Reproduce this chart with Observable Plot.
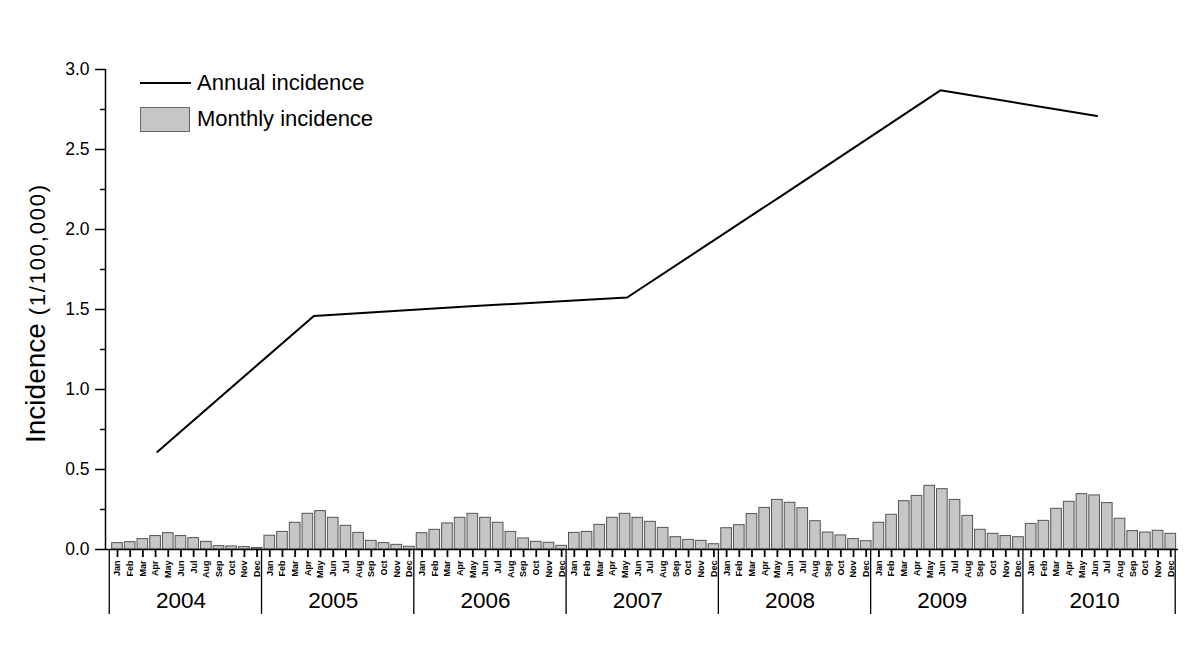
<!DOCTYPE html>
<html>
<head>
<meta charset="utf-8">
<script src="https://cdn.jsdelivr.net/npm/d3@7"></script>
<script src="https://cdn.jsdelivr.net/npm/@observablehq/plot@0.6"></script>
<style>
  body { margin: 0; background: #fff; font-family: "Liberation Sans", Arial, sans-serif; }
  #wrap { position: relative; width: 1200px; height: 661px; }
  #wrap svg { position: absolute; left: 0; top: 0; }
  .legend { position: absolute; left: 140px; top: 65px; font-size: 22px; color: #000; }
  .row { display: flex; align-items: center; height: 36px; }
  .sw-line { width: 51px; height: 0; border-top: 2px solid #000; margin-right: 6px; }
  .sw-box { width: 48px; height: 23px; background: #c6c6c6; border: 1px solid #666; margin-right: 7px; }
</style>
</head>
<body>
<div id="wrap">
  <div class="legend">
    <div class="row"><div class="sw-line"></div><span>Annual incidence</span></div>
    <div class="row"><div class="sw-box"></div><span>Monthly incidence</span></div>
  </div>
</div>
<script>
const months = ["Jan","Feb","Mar","Apr","May","Jun","Jul","Aug","Sep","Oct","Nov","Dec"];
const years = [2004, 2005, 2006, 2007, 2008, 2009, 2010];

const monthly2004 = [0.040, 0.046, 0.065, 0.084, 0.102, 0.084, 0.071, 0.048, 0.021, 0.019, 0.015, 0.009];
const monthly2005 = [0.086, 0.110, 0.167, 0.223, 0.240, 0.198, 0.148, 0.104, 0.054, 0.040, 0.029, 0.017];
const monthly2006 = [0.102, 0.123, 0.163, 0.198, 0.223, 0.198, 0.167, 0.110, 0.069, 0.048, 0.042, 0.023];
const monthly2007 = [0.104, 0.110, 0.154, 0.198, 0.223, 0.198, 0.173, 0.135, 0.077, 0.060, 0.054, 0.033];
const monthly2008 = [0.133, 0.152, 0.221, 0.260, 0.310, 0.292, 0.258, 0.177, 0.106, 0.088, 0.065, 0.052];
const monthly2009 = [0.167, 0.217, 0.302, 0.335, 0.398, 0.377, 0.310, 0.210, 0.123, 0.098, 0.084, 0.077];
const monthly2010 = [0.160, 0.179, 0.254, 0.298, 0.346, 0.338, 0.290, 0.192, 0.115, 0.106, 0.117, 0.098];
const monthlyByYear = [monthly2004, monthly2005, monthly2006, monthly2007, monthly2008, monthly2009, monthly2010];

const annualIncidence = [0.61, 1.46, 1.52, 1.575, 2.22, 2.87, 2.71];

const yMajor = [0, 0.5, 1.0, 1.5, 2.0, 2.5, 3.0];
const yMinor = [0.25, 0.75, 1.25, 1.75, 2.25, 2.75];

const rows = years.flatMap((yr, k) => months.map((m, j) => ({i: k * 12 + j, year: yr, month: m, value: monthlyByYear[k][j]})));
const annualRows = years.map((yr, k) => ({year: yr, value: annualIncidence[k]}));

const W = 1200, H = 661;
const margins = {marginTop: 69, marginBottom: 112, marginLeft: 105, marginRight: 22};
const xDomain = [-0.946, 83.61];
const font = "'Liberation Sans', Arial, sans-serif";

const boundaries = years.map((y, k) => k * 12 - 0.65).concat([years.length * 12 - 0.65]);
const yearCenters = years.map((y, k) => k * 12 + 5);

const main = Plot.plot({
  width: W, height: H, ...margins,
  x: {domain: xDomain},
  y: {domain: [0, 3]},
  style: {fontFamily: font, color: "#000", background: "transparent", overflow: "visible"},
  marks: [
    Plot.rectY(rows, {x1: d => d.i - 0.42, x2: d => d.i + 0.42, y: "value", fill: "#c6c6c6", stroke: "#555", strokeWidth: 1}),
    Plot.ruleY([0], {stroke: "#000", strokeWidth: 1.5}),
    Plot.ruleX([xDomain[0]], {y1: 0, y2: 3, stroke: "#000", strokeWidth: 1.5}),
    Plot.axisY({ticks: yMajor, tickSize: 10, tickPadding: 6, tickFormat: d3.format(".1f"), fontSize: 17.5, label: null, strokeWidth: 1.5}),
    Plot.axisY({ticks: yMinor, tickSize: 5, tickFormat: () => "", label: null, strokeWidth: 1.5}),
    Plot.axisX({ticks: rows.map(d => d.i), tickSize: 8, tickPadding: 3, tickRotate: -90, tickFormat: i => months[Math.round(i) % 12], fontSize: 9, fontWeight: "bold", label: null, strokeWidth: 1.8}),
    Plot.axisX({ticks: boundaries, tickSize: 65, tickFormat: () => "", label: null, strokeWidth: 1.3}),
    Plot.axisX({ticks: yearCenters, tickSize: 0, tickPadding: 43, tickFormat: i => String(years[Math.floor(i / 12)]), fontSize: 22.5, label: null})
  ]
});

const lineOverlay = Plot.plot({
  width: W, height: H, ...margins,
  x: {domain: [2003.67, 2010.52], axis: null},
  y: {domain: [0, 3], axis: null},
  style: {background: "transparent", overflow: "visible"},
  marks: [
    Plot.line(annualRows, {x: "year", y: "value", stroke: "#000", strokeWidth: 2})
  ]
});

const wrap = document.getElementById("wrap");
wrap.insertBefore(main, wrap.firstChild);
wrap.insertBefore(lineOverlay, main.nextSibling);

const t = d3.select(main).append("text")
  .attr("transform", "translate(45,313) rotate(-90)")
  .attr("text-anchor", "middle")
  .attr("font-family", font)
  .attr("fill", "#000");
t.append("tspan").attr("font-size", 28).text("Incidence ");
t.append("tspan").attr("font-size", 22).attr("letter-spacing", 1.8).text("(1/100,000)");
</script>
</body>
</html>
